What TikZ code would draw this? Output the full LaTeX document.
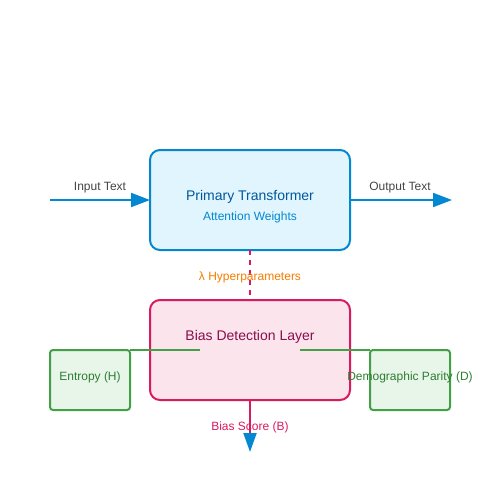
\documentclass[tikz,border=0pt]{standalone}
\usepackage{fontspec}
\setmainfont{Liberation Sans}
\usetikzlibrary{arrows.meta}
\definecolor{cblue}{HTML}{0288D1}
\definecolor{cbluefill}{HTML}{E1F5FE}
\definecolor{cbluetext}{HTML}{01579B}
\definecolor{cpink}{HTML}{D81B60}
\definecolor{cpinkfill}{HTML}{FCE4EC}
\definecolor{cpinktext}{HTML}{880E4F}
\definecolor{corange}{HTML}{F57C00}
\definecolor{cgreen}{HTML}{43A047}
\definecolor{cgreenfill}{HTML}{E8F5E9}
\definecolor{cgreentext}{HTML}{2E7D32}
\definecolor{cgrey}{HTML}{444444}
\tikzset{
  bigbox/.style={draw, line width=2pt, rounded corners=10pt, minimum width=200pt, minimum height=100pt, outer sep=0pt, inner sep=0pt},
  smallbox/.style={draw=cgreen, fill=cgreenfill, line width=2pt, rounded corners=3pt, minimum width=80pt, minimum height=60pt, outer sep=0pt, inner sep=0pt},
  lbl/.style={anchor=base, inner sep=0pt, font=\fontsize{12}{14}\selectfont},
  ttl/.style={anchor=base, inner sep=0pt, font=\fontsize{14}{16}\selectfont},
  bluearrow/.style={draw=cblue, line width=2pt, -{Triangle[length=19pt,width=14pt,color=cblue]}},
}
\begin{document}
\begin{tikzpicture}[x=1pt,y=-1pt]
\useasboundingbox (0,0) rectangle (500,500);
% boxes
\node[bigbox, draw=cblue, fill=cbluefill] (prim) at (250,200) {};
\node[bigbox, draw=cpink, fill=cpinkfill] (bias) at (250,350) {};
\node[smallbox] (ent) at (90,380) {};
\node[smallbox] (dem) at (410,380) {};
% coordinates
\coordinate (in) at (50,200);
\coordinate (out) at (452,200);
\coordinate (gl) at (200,350);
\coordinate (gr) at (300,350);
\coordinate (score) at (250,452);
% connectors
\draw[bluearrow] (in) -- (prim.west);
\draw[bluearrow] (prim.east) -- (out);
\draw[cpink, line width=2pt, dash pattern=on 5pt off 5pt] (prim.south) -- (bias.north);
\draw[cgreen, line width=2pt] (ent.north east) -- (gl);
\draw[cgreen, line width=2pt] (gr) -- (dem.north west);
\draw[cpink, line width=2pt, -{Triangle[length=19pt,width=13pt,color=cblue]}] (bias.south) -- (score);
% texts
\node[ttl, text=cbluetext] (primt) at (250,200) {Primary Transformer};
\node[lbl, text=cblue] (att) at (250,220) {Attention Weights};
\node[lbl, text=cgrey] (int) at (100,190) {Input Text};
\node[lbl, text=cgrey] (outt) at (400,190) {Output Text};
\node[lbl, text=corange] (lam) at (250,280) {λ Hyperparameters};
\node[ttl, text=cpinktext] (biast) at (250,340) {Bias Detection Layer};
\node[lbl, text=cgreentext] (entt) at (90,380) {Entropy (H)};
\node[lbl, text=cgreentext] (demt) at (410,380) {Demographic Parity (D)};
\node[lbl, text=cpink] (scoret) at (250,430) {Bias Score (B)};
\end{tikzpicture}
\end{document}
